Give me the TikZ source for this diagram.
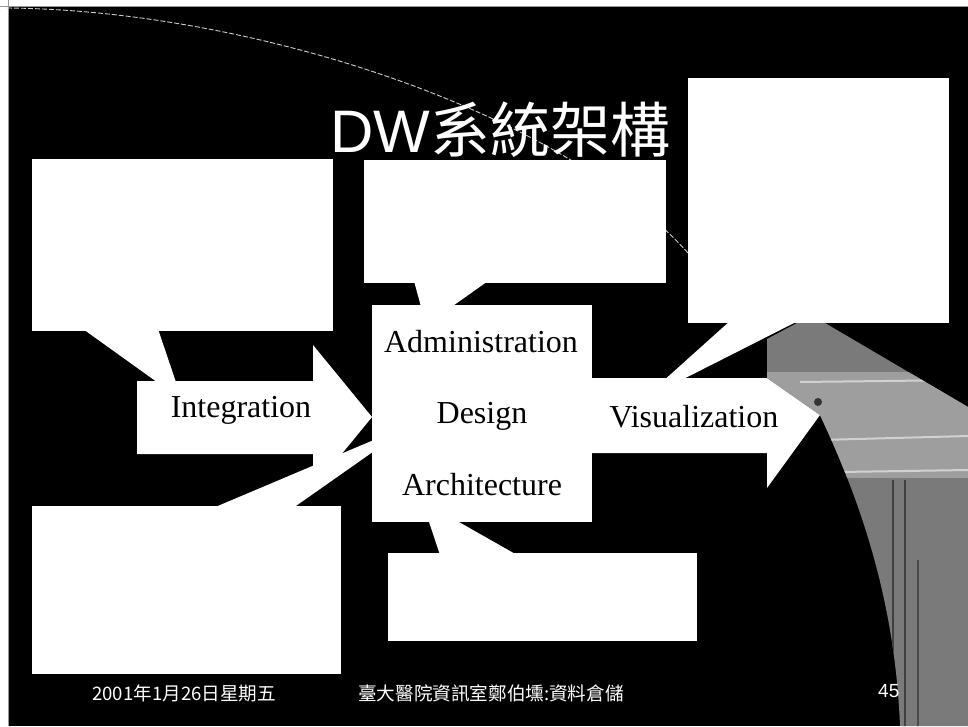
\documentclass[tikz,border=0pt]{standalone}
\usepackage{fontspec}
\setmainfont{Liberation Serif}
\newfontfamily\sansf{Liberation Sans}
\newfontfamily\cjkf{Noto Sans CJK TC}
\usetikzlibrary{calc}
\begin{document}
\begin{tikzpicture}[x=1pt,y=-1pt,
  callout/.style={fill=white, draw=none, inner sep=0pt, outer sep=0pt, anchor=north west},
  lbl/.style={font=\fontsize{32}{32}\selectfont, inner sep=0pt, anchor=base, text=black},
  foot/.style={font=\cjkf\fontsize{18.6}{18.6}\selectfont, inner sep=0pt, anchor=base west, text=white},
  arcline/.style={draw=black!20, line width=0.9pt, dash pattern=on 5pt off 2pt},
  shade/.style={fill=black!52}]
\useasboundingbox (0,0) rectangle (968,726);
% background
\fill[white] (0,0) rectangle (968,726);
\fill[black] (8,6) rectangle (968,726);
\draw[black!40, line width=1pt] (0,6) -- (968,6);
\draw[black!40, line width=1pt] (8,0) -- (8,726);
% thin arc of the template swoosh
\draw[arcline] (7,8) .. controls (250,10) and (560,110) .. (688,253);
% title
\node[inner sep=0pt, anchor=base west, text=white, font=\fontsize{60}{60}\selectfont] (title) at (330,152) {{\sansf DW}{\cjkf 系統架構}};
% callout boxes
\node[callout, minimum width=301pt, minimum height=172pt] (tl) at (32,159) {};
\node[callout, minimum width=302pt, minimum height=123pt] (tm) at (364,160) {};
\node[callout, minimum width=261pt, minimum height=245pt] (tr) at (688,78) {};
\node[callout, minimum width=309pt, minimum height=168pt] (bl) at (32,506) {};
\node[callout, minimum width=309pt, minimum height=88pt] (bm) at (388,553) {};
\node[callout, minimum width=220pt, minimum height=217pt] (core) at (372,305) {};
% callout tails
\coordinate (tlTip) at (182,400);
\coordinate (tmTip) at (426,325);
\coordinate (trTip) at (642,400);
\coordinate (blTip) at (414,423);
\coordinate (bmTip) at (422,501);
\fill[white] ($(tl.south west)+(51,-2)$) -- (tlTip) -- ($(tl.south west)+(126,-2)$) -- cycle;
\fill[white] ($(tm.south west)+(50,-2)$) -- (tmTip) -- ($(tm.south west)+(124,-2)$) -- cycle;
\fill[white] ($(tr.south west)+(42,-2)$) -- (trTip) -- ($(tr.south west)+(110,-2)$) -- cycle;
\fill[white] ($(bl.north west)+(181,2)$) -- (blTip) -- ($(bl.north west)+(261,2)$) -- cycle;
\fill[white] ($(bm.north west)+(52,2)$) -- (bmTip) -- ($(bm.north west)+(129,2)$) -- cycle;
% block arrows
\fill[white] (137,381) -- (313,381) -- (313,345) -- (372,417) -- (313,489) -- (313,454) -- (137,454) -- cycle;
\fill[white] (590,378) -- (767,378) -- (767,343) -- (820,415) -- (767,488) -- (767,453) -- (590,453) -- cycle;
% shaded swoosh
\fill[shade] (797,323) -- (825,323) -- (968,407) -- (968,726) -- (900,726)
  .. controls (895,600) and (860,500) .. (820,415) -- (767,378) -- (767,339) -- cycle;
\begin{scope}
  \clip (797,323) -- (825,323) -- (968,407) -- (968,726) -- (900,726)
  .. controls (895,600) and (860,500) .. (820,415) -- (767,378) -- (767,339) -- cycle;
  \fill[black!38] (760,372) rectangle (968,478);
  \draw[black!18, line width=2pt] (800,382) -- (968,380);
  \draw[black!18, line width=2pt] (820,440) -- (968,436);
  \draw[black!18, line width=2pt] (840,472) -- (968,470);
  \draw[black!75, line width=2pt] (893,480) -- (893,726);
  \draw[black!75, line width=1.5pt] (905,480) -- (905,726);
  \draw[black!70, line width=1.5pt] (918,560) -- (918,726);
  \fill[black!80] (818,402) circle (4);
\end{scope}
% labels
\node[lbl] (integ) at (241,417) {Integration};
\node[lbl] (adm) at (481,352) {Administration};
\node[lbl] (des) at (482,423) {Design};
\node[lbl] (arch) at (482,495) {Architecture};
\node[lbl] (vis) at (694,427) {Visualization};
% footer
\node[foot] (date) at (92,700) {2001年1月26日星期五};
\node[foot] (org) at (358,700) {臺大醫院資訊室鄭伯壎:資料倉儲};
\node[inner sep=0pt, anchor=base west, text=white, font=\sansf\fontsize{19}{19}\selectfont] (page) at (878,697) {45};
\end{tikzpicture}
\end{document}
